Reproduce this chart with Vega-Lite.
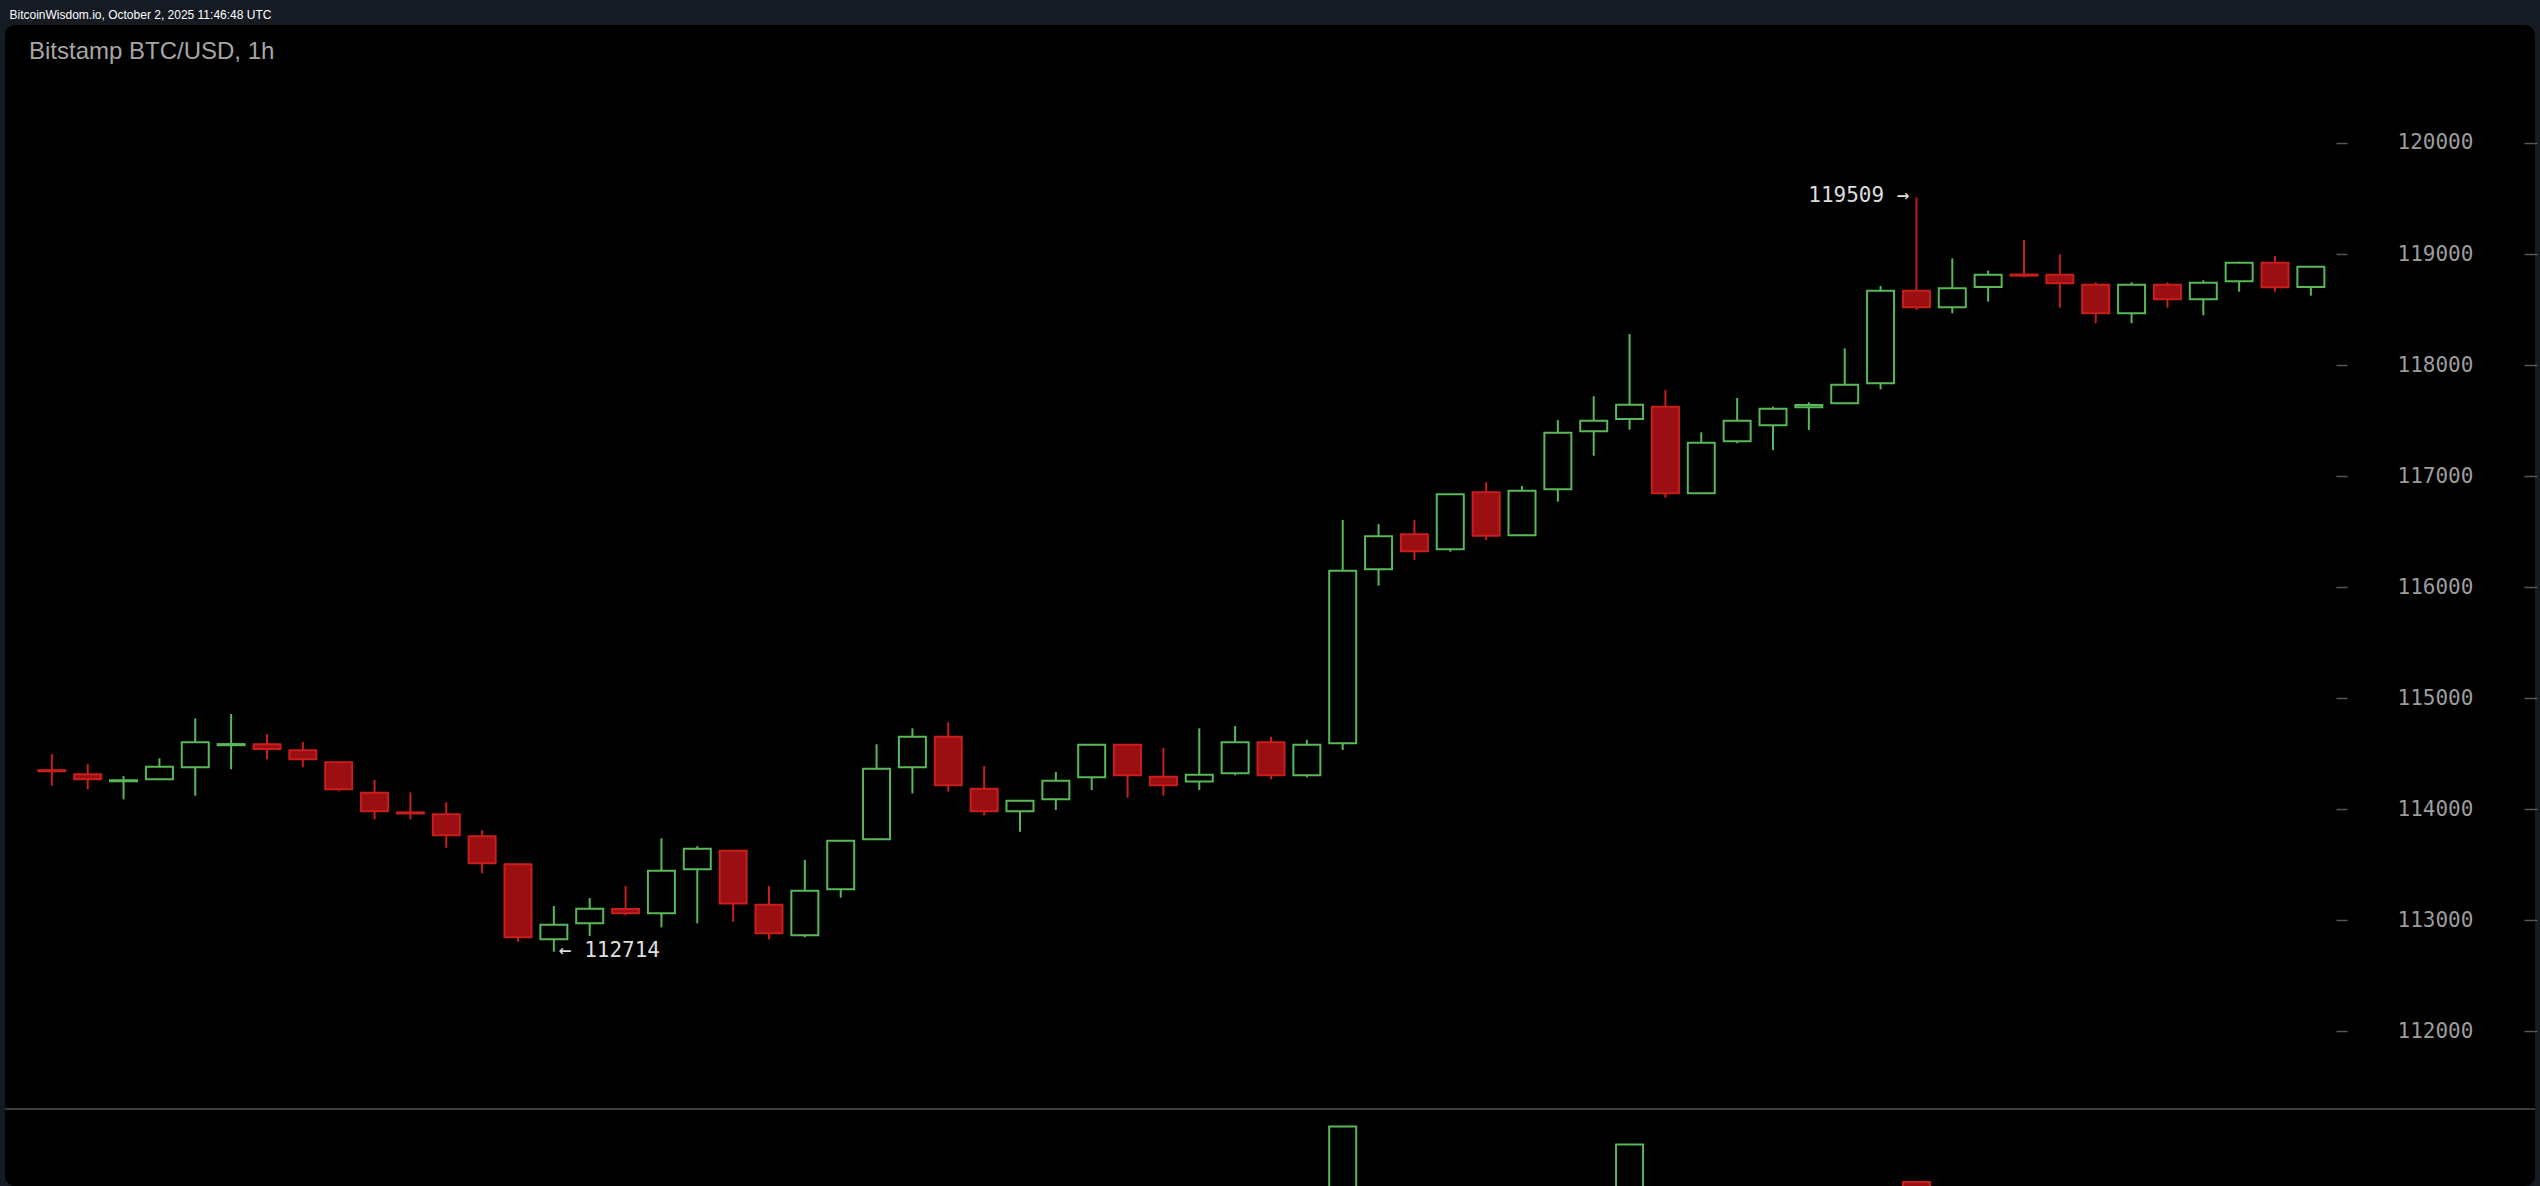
{
  "$schema": "https://vega.github.io/schema/vega-lite/v6.json",
  "width": 2530,
  "height": 1161,
  "autosize": "none",
  "padding": {"left": 5, "right": 5, "top": 25, "bottom": 0},
  "background": "#161a23",
  "title": {"text": "Bitstamp BTC/USD, 1h", "anchor": "start", "frame": "group", "offset": -56, "dx": 24, "font": "Liberation Sans", "fontSize": 24, "fontWeight": "normal", "color": "#a6a6a6"},
  "config": {"view": {"stroke": null, "fill": "#000000", "cornerRadius": 10}, "axis": {"grid": false}},
  "data": {"values": [
    {"t": "2025-09-29T20:00:00Z", "o": 114350, "h": 114495, "l": 114210, "c": 114340},
    {"t": "2025-09-29T21:00:00Z", "o": 114313, "h": 114405, "l": 114177, "c": 114268},
    {"t": "2025-09-29T22:00:00Z", "o": 114250, "h": 114297, "l": 114087, "c": 114260},
    {"t": "2025-09-29T23:00:00Z", "o": 114268, "h": 114457, "l": 114265, "c": 114381},
    {"t": "2025-09-30T00:00:00Z", "o": 114376, "h": 114817, "l": 114120, "c": 114601},
    {"t": "2025-09-30T01:00:00Z", "o": 114575, "h": 114856, "l": 114358, "c": 114585},
    {"t": "2025-09-30T02:00:00Z", "o": 114583, "h": 114673, "l": 114448, "c": 114540},
    {"t": "2025-09-30T03:00:00Z", "o": 114530, "h": 114604, "l": 114376, "c": 114448},
    {"t": "2025-09-30T04:00:00Z", "o": 114421, "h": 114425, "l": 114160, "c": 114178},
    {"t": "2025-09-30T05:00:00Z", "o": 114147, "h": 114261, "l": 113907, "c": 113979},
    {"t": "2025-09-30T06:00:00Z", "o": 113970, "h": 114150, "l": 113907, "c": 113960},
    {"t": "2025-09-30T07:00:00Z", "o": 113952, "h": 114060, "l": 113651, "c": 113763},
    {"t": "2025-09-30T08:00:00Z", "o": 113754, "h": 113808, "l": 113421, "c": 113511},
    {"t": "2025-09-30T09:00:00Z", "o": 113502, "h": 113510, "l": 112805, "c": 112844},
    {"t": "2025-09-30T10:00:00Z", "o": 112826, "h": 113126, "l": 112714, "c": 112958, "note_lo": "← 112714"},
    {"t": "2025-09-30T11:00:00Z", "o": 112970, "h": 113198, "l": 112856, "c": 113102},
    {"t": "2025-09-30T12:00:00Z", "o": 113100, "h": 113306, "l": 113042, "c": 113060},
    {"t": "2025-09-30T13:00:00Z", "o": 113060, "h": 113736, "l": 112934, "c": 113444},
    {"t": "2025-09-30T14:00:00Z", "o": 113457, "h": 113665, "l": 112970, "c": 113642},
    {"t": "2025-09-30T15:00:00Z", "o": 113624, "h": 113630, "l": 112985, "c": 113150},
    {"t": "2025-09-30T16:00:00Z", "o": 113138, "h": 113306, "l": 112826, "c": 112880},
    {"t": "2025-09-30T17:00:00Z", "o": 112862, "h": 113541, "l": 112845, "c": 113264},
    {"t": "2025-09-30T18:00:00Z", "o": 113277, "h": 113720, "l": 113201, "c": 113714},
    {"t": "2025-09-30T19:00:00Z", "o": 113727, "h": 114583, "l": 113720, "c": 114363},
    {"t": "2025-09-30T20:00:00Z", "o": 114376, "h": 114727, "l": 114141, "c": 114651},
    {"t": "2025-09-30T21:00:00Z", "o": 114651, "h": 114781, "l": 114156, "c": 114214},
    {"t": "2025-09-30T22:00:00Z", "o": 114183, "h": 114387, "l": 113943, "c": 113979},
    {"t": "2025-09-30T23:00:00Z", "o": 113979, "h": 114080, "l": 113795, "c": 114075},
    {"t": "2025-10-01T00:00:00Z", "o": 114087, "h": 114333, "l": 113991, "c": 114255},
    {"t": "2025-10-01T01:00:00Z", "o": 114286, "h": 114585, "l": 114171, "c": 114579},
    {"t": "2025-10-01T02:00:00Z", "o": 114579, "h": 114585, "l": 114102, "c": 114304},
    {"t": "2025-10-01T03:00:00Z", "o": 114291, "h": 114550, "l": 114120, "c": 114214},
    {"t": "2025-10-01T04:00:00Z", "o": 114249, "h": 114727, "l": 114171, "c": 114309},
    {"t": "2025-10-01T05:00:00Z", "o": 114322, "h": 114748, "l": 114304, "c": 114601},
    {"t": "2025-10-01T06:00:00Z", "o": 114601, "h": 114651, "l": 114268, "c": 114304},
    {"t": "2025-10-01T07:00:00Z", "o": 114304, "h": 114622, "l": 114285, "c": 114579},
    {"t": "2025-10-01T08:00:00Z", "o": 114592, "h": 116604, "l": 114532, "c": 116147, "v": 912},
    {"t": "2025-10-01T09:00:00Z", "o": 116159, "h": 116568, "l": 116012, "c": 116457},
    {"t": "2025-10-01T10:00:00Z", "o": 116475, "h": 116604, "l": 116243, "c": 116322},
    {"t": "2025-10-01T11:00:00Z", "o": 116340, "h": 116840, "l": 116318, "c": 116835},
    {"t": "2025-10-01T12:00:00Z", "o": 116853, "h": 116943, "l": 116423, "c": 116462},
    {"t": "2025-10-01T13:00:00Z", "o": 116466, "h": 116910, "l": 116460, "c": 116868},
    {"t": "2025-10-01T14:00:00Z", "o": 116880, "h": 117505, "l": 116769, "c": 117390},
    {"t": "2025-10-01T15:00:00Z", "o": 117403, "h": 117718, "l": 117183, "c": 117498},
    {"t": "2025-10-01T16:00:00Z", "o": 117513, "h": 118279, "l": 117417, "c": 117642, "v": 823},
    {"t": "2025-10-01T17:00:00Z", "o": 117624, "h": 117775, "l": 116805, "c": 116844},
    {"t": "2025-10-01T18:00:00Z", "o": 116844, "h": 117394, "l": 116840, "c": 117300},
    {"t": "2025-10-01T19:00:00Z", "o": 117313, "h": 117703, "l": 117295, "c": 117498},
    {"t": "2025-10-01T20:00:00Z", "o": 117457, "h": 117624, "l": 117234, "c": 117606},
    {"t": "2025-10-01T21:00:00Z", "o": 117620, "h": 117664, "l": 117414, "c": 117640},
    {"t": "2025-10-01T22:00:00Z", "o": 117655, "h": 118150, "l": 117650, "c": 117823},
    {"t": "2025-10-01T23:00:00Z", "o": 117835, "h": 118712, "l": 117781, "c": 118669},
    {"t": "2025-10-02T00:00:00Z", "o": 118669, "h": 119509, "l": 118496, "c": 118520, "v": 635, "note_hi": "119509 →"},
    {"t": "2025-10-02T01:00:00Z", "o": 118520, "h": 118961, "l": 118466, "c": 118691},
    {"t": "2025-10-02T02:00:00Z", "o": 118703, "h": 118851, "l": 118570, "c": 118814},
    {"t": "2025-10-02T03:00:00Z", "o": 118815, "h": 119126, "l": 118790, "c": 118805},
    {"t": "2025-10-02T04:00:00Z", "o": 118814, "h": 118997, "l": 118516, "c": 118736},
    {"t": "2025-10-02T05:00:00Z", "o": 118723, "h": 118745, "l": 118376, "c": 118466},
    {"t": "2025-10-02T06:00:00Z", "o": 118466, "h": 118745, "l": 118376, "c": 118723},
    {"t": "2025-10-02T07:00:00Z", "o": 118723, "h": 118745, "l": 118516, "c": 118592},
    {"t": "2025-10-02T08:00:00Z", "o": 118592, "h": 118763, "l": 118448, "c": 118741},
    {"t": "2025-10-02T09:00:00Z", "o": 118754, "h": 118930, "l": 118660, "c": 118922},
    {"t": "2025-10-02T10:00:00Z", "o": 118922, "h": 118982, "l": 118660, "c": 118700},
    {"t": "2025-10-02T11:00:00Z", "o": 118703, "h": 118890, "l": 118624, "c": 118886}
  ]},
  "resolve": {"scale": {"y": "independent"}, "axis": {"y": "independent"}},
  "layer": [
    {
      "mark": {"type": "rule", "strokeWidth": 2},
      "encoding": {
        "x": {"field": "t", "type": "temporal", "scale": {"type": "utc", "domain": [{"year": 2025, "month": "sep", "date": 29, "hours": 18, "minutes": 50, "utc": true}, {"year": 2025, "month": "oct", "date": 2, "hours": 17, "minutes": 6, "seconds": 40, "utc": true}]}, "axis": null},
        "y": {"field": "l", "type": "quantitative", "scale": {"domain": [110604, 121063], "zero": false, "nice": false},
          "axis": {"orient": "right", "offset": -199, "values": [112000, 113000, 114000, 115000, 116000, 117000, 118000, 119000, 120000], "format": "d", "tickSize": 11, "tickColor": "#555555", "tickWidth": 1.5, "labelPadding": 50, "labelAlign": "left", "labelBaseline": "middle", "labelFont": "DejaVu Sans Mono", "labelFontSize": 21, "labelColor": "#9c9c9c", "domain": false, "title": null}},
        "y2": {"field": "h"},
        "stroke": {"condition": {"test": "datum.c >= datum.o", "value": "#58b858"}, "value": "#c81e1e"}
      }
    },
    {
      "mark": {"type": "bar", "width": 27, "strokeWidth": 2},
      "encoding": {
        "x": {"field": "t", "type": "temporal", "scale": {"type": "utc", "domain": [{"year": 2025, "month": "sep", "date": 29, "hours": 18, "minutes": 50, "utc": true}, {"year": 2025, "month": "oct", "date": 2, "hours": 17, "minutes": 6, "seconds": 40, "utc": true}]}, "axis": null},
        "y": {"field": "o", "type": "quantitative", "scale": {"domain": [110604, 121063], "zero": false, "nice": false},
          "axis": {"orient": "right", "offset": -11, "values": [112000, 113000, 114000, 115000, 116000, 117000, 118000, 119000, 120000], "tickSize": 13, "tickColor": "#555555", "tickWidth": 1.5, "labels": false, "domain": false,
            "title": "BitcoinWisdom.io, October 2, 2025 11:46:48 UTC", "titleAngle": 0, "titleX": -2515, "titleY": -7, "titleAlign": "left", "titleBaseline": "alphabetic", "titleColor": "#ffffff", "titleFont": "Liberation Sans", "titleFontSize": 12, "titleFontWeight": "normal"}},
        "y2": {"field": "c"},
        "fill": {"condition": {"test": "datum.c >= datum.o", "value": "#000000"}, "value": "#9b0f12"},
        "stroke": {"condition": {"test": "datum.c >= datum.o", "value": "#58b858"}, "value": "#c81e1e"}
      }
    },
    {
      "transform": [{"filter": "isValid(datum.note_hi)"}],
      "mark": {"type": "text", "align": "right", "baseline": "middle", "dx": -7, "dy": -2, "font": "DejaVu Sans Mono", "fontSize": 21, "color": "#dddddd"},
      "encoding": {
        "x": {"field": "t", "type": "temporal", "scale": {"type": "utc", "domain": [{"year": 2025, "month": "sep", "date": 29, "hours": 18, "minutes": 50, "utc": true}, {"year": 2025, "month": "oct", "date": 2, "hours": 17, "minutes": 6, "seconds": 40, "utc": true}]}, "axis": null},
        "y": {"field": "h", "type": "quantitative", "scale": {"domain": [110604, 121063], "zero": false, "nice": false}, "axis": null},
        "text": {"field": "note_hi"}
      }
    },
    {
      "transform": [{"filter": "isValid(datum.note_lo)"}],
      "mark": {"type": "text", "align": "left", "baseline": "middle", "dx": 5, "dy": -1, "font": "DejaVu Sans Mono", "fontSize": 21, "color": "#dddddd"},
      "encoding": {
        "x": {"field": "t", "type": "temporal", "scale": {"type": "utc", "domain": [{"year": 2025, "month": "sep", "date": 29, "hours": 18, "minutes": 50, "utc": true}, {"year": 2025, "month": "oct", "date": 2, "hours": 17, "minutes": 6, "seconds": 40, "utc": true}]}, "axis": null},
        "y": {"field": "l", "type": "quantitative", "scale": {"domain": [110604, 121063], "zero": false, "nice": false}, "axis": null},
        "text": {"field": "note_lo"}
      }
    },
    {
      "mark": {"type": "bar", "width": 27, "strokeWidth": 2, "clip": true},
      "encoding": {
        "x": {"field": "t", "type": "temporal", "scale": {"type": "utc", "domain": [{"year": 2025, "month": "sep", "date": 29, "hours": 18, "minutes": 50, "utc": true}, {"year": 2025, "month": "oct", "date": 2, "hours": 17, "minutes": 6, "seconds": 40, "utc": true}]}, "axis": null},
        "y": {"field": "v", "type": "quantitative", "scale": {"domain": [615, 6420], "zero": false, "nice": false}, "axis": null},
        "y2": {"datum": 0},
        "fill": {"condition": {"test": "datum.c >= datum.o", "value": "#000000"}, "value": "#9b0f12"},
        "stroke": {"condition": {"test": "datum.c >= datum.o", "value": "#58b858"}, "value": "#c81e1e"}
      }
    },
    {
      "mark": {"type": "rule", "color": "#3c3c3c", "strokeWidth": 2},
      "encoding": {
        "y": {"datum": 1000, "type": "quantitative", "scale": {"domain": [615, 6420], "zero": false, "nice": false}, "axis": null}
      }
    }
  ]
}
